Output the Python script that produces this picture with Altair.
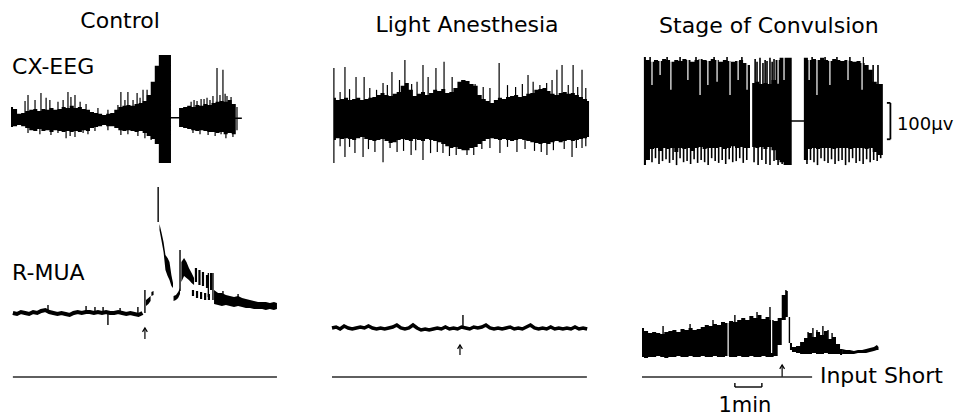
import altair as alt
import pandas as pd

# ---------------- layout constants ----------------
PX_PER_MIN = 27            # chart speed: the 1-min bracket is 27 px long
STEP = 0.15                # sampling step (min) of the read-off envelopes
CANVAS_W, CANVAS_H = 947, 410
PANEL_LEFT = [3, 324, 634]     # px from canvas left where each panel's time 0 lies
EEG_DOMAIN = [-819.5, 308.0]   # µV
MUA_DOMAIN = [-4.1, 36.9]      # R-MUA, arbitrary units (0 = input short)
FONT = "DejaVu Sans"
EEG_BASE = 0.0

# ================= Control =================
ctrl_eeg_t0 = 0.0
ctrl_eeg_hi = [36, 30, 17, 19, 25, 28, 30, 25, 30, 28,
               33, 28, 30, 36, 33, 39, 33, 36, 30, 28,
               22, 19, 17, 14, 17, 19, 28, 36, 39, 41,
               39, 44, 47, 52, 69, 105, 149, 179, 179, 179,
               8, 8, 33, 36, 39, 36, 41, 39, 44, 41,
               47, 50, 52, 50, 55, 44, 7, 7]
ctrl_eeg_lo = [-19, -17, -14, -17, -22, -28, -30, -25, -30, -28,
               -33, -28, -30, -33, -30, -33, -30, -33, -28, -30,
               -22, -19, -17, -14, -17, -17, -22, -28, -30, -28,
               -30, -33, -30, -36, -44, -52, -66, -118, -118, -118,
               4, 4, -19, -22, -25, -28, -30, -28, -30, -33,
               -33, -36, -33, -39, -36, -39, 3, 3]
ctrl_eeg_spike_t = [0.52, 0.63, 0.89, 1.11, 1.30, 1.44, 1.74, 1.93, 2.11, 2.22,
                    2.37, 2.56, 2.78, 3.22, 3.59, 3.96, 4.07, 4.22, 4.33, 4.52,
                    4.67, 4.78, 4.89, 5.04,
                    6.67, 6.78, 6.89, 7.04, 7.15, 7.26, 7.37, 7.48, 7.63, 7.74,
                    7.85, 7.93, 8.00, 8.15, 8.37,
                    0.63, 1.07, 1.48, 1.74, 2.04, 2.19, 2.37, 2.67, 2.85, 3.11,
                    3.59, 4.07, 4.33, 4.70, 4.96, 5.19,
                    6.74, 7.00, 7.30, 7.56, 7.78, 7.96, 8.22, 8.37]
ctrl_eeg_spike_v = [52, 69, 55, 74, 61, 55, 50, 55, 77, 63,
                    69, 50, 44, 33, 28, 41, 77, 55, 77, 55,
                    74, 61, 83, 83,
                    50, 55, 52, 58, 58, 61, 55, 66, 143, 69,
                    138, 72, 66, 63, 36,
                    -36, -39, -41, -36, -50, -44, -47, -36, -39, -30,
                    -28, -41, -39, -44, -50, -55,
                    -36, -39, -41, -44, -39, -50, -47, -28]

ctrl_mua_t0 = 0.07
ctrl_mua_level = [6.4, 6.3, 6.5, 6.4, 6.3, 6.5, 6.4, 6.6, 6.7, 6.5,
                  6.4, 6.3, 6.4, 6.3, 6.2, 6.4, 6.5, 6.4, 6.5, 6.5,
                  6.4, 6.5, 6.4, 6.5, 6.4, 6.4, 6.5, 6.4, 6.3, 6.4,
                  6.3, 6.2, 6.4]
ctrl_mua_piece = ["a"] * 3 + ["a2"] * 2 + ["b"] * 8 + ["c"] * 4 + ["d"] * 6 + ["e"] * 17
ctrl_mua_piece_t = [5.00, 5.09, 5.17, 5.20, 5.28,
                    5.50, 5.57, 5.65, 5.72, 5.80, 5.87, 5.94, 6.00,
                    6.02, 6.11, 6.19, 6.26,
                    6.31, 6.41, 6.50, 6.59, 6.69, 6.78,
                    7.52, 7.67, 7.81, 7.96, 8.11, 8.26, 8.41, 8.56, 8.70, 8.85,
                    9.00, 9.15, 9.30, 9.44, 9.59, 9.74, 9.85]
ctrl_mua_piece_hi = [7.7, 7.9, 8.1, 8.5, 8.6,
                     15.3, 14.5, 13.5, 12.2, 11.9, 11.5, 10.2, 9.4,
                     8.1, 8.2, 8.5, 8.9,
                     11.5, 11.9, 11.5, 10.9, 10.4, 9.9,
                     8.7, 8.4, 8.4, 8.2, 8.1, 8.0, 8.1, 7.9, 7.8, 7.7,
                     7.6, 7.5, 7.5, 7.5, 7.4, 7.5, 7.4]
ctrl_mua_piece_lo = [7.1, 7.3, 7.6, 8.1, 8.2,
                     14.7, 13.7, 12.5, 10.7, 10.1, 9.7, 9.1, 8.9,
                     7.6, 7.7, 7.9, 8.3,
                     9.5, 10.1, 9.9, 9.7, 9.4, 9.2,
                     7.3, 7.2, 7.1, 7.2, 7.1, 7.0, 7.1, 7.0, 6.9, 6.9,
                     6.8, 6.8, 6.8, 6.7, 6.8, 6.7, 6.8]
ctrl_mua_spike_t = [1.37, 2.78, 3.11, 3.41, 4.04, 4.70, 3.59, 4.96, 5.45, 6.26, 7.31, 7.48, 7.85, 8.41]
ctrl_mua_spike_base = [6.4, 6.4, 6.4, 6.4, 6.4, 6.4, 6.4, 6.4, 15.5, 8.6, 8.0, 7.7, 7.8, 7.6]
ctrl_mua_spike_tip = [7.2, 7.1, 7.0, 7.0, 6.9, 7.0, 5.2, 8.7, 19.0, 12.7, 10.4, 10.4, 8.6, 8.3]
ctrl_mua_dash_t = [6.85, 6.98, 7.11, 7.26, 7.41, 6.74, 6.89, 7.04, 7.19, 7.33]
ctrl_mua_dash_top = [10.9, 10.7, 10.5, 10.2, 10.4, 8.7, 8.6, 8.5, 8.4, 8.3]
ctrl_mua_dash_bottom = [9.5, 9.2, 9.1, 8.9, 8.7, 8.1, 7.9, 7.8, 7.7, 7.7]
ctrl_arrow = (4.96, 3.8, 4.9)
ctrl_zero = (0.07, 9.85)

# ================= Light Anesthesia =================
light_eeg_t0 = 0.07
light_eeg_hi = [61, 55, 58, 61, 55, 58, 61, 55, 58, 61,
                63, 69, 74, 69, 66, 72, 77, 94, 102, 83,
                66, 72, 77, 69, 74, 83, 80, 85, 74, 77,
                88, 105, 110, 107, 99, 94, 69, 58, 52, 47,
                55, 61, 58, 63, 66, 69, 63, 66, 72, 74,
                83, 85, 88, 80, 72, 69, 74, 77, 72, 74,
                69, 63, 58, 52]
light_eeg_lo = [-55, -50, -52, -50, -52, -55, -50, -47, -52, -55,
                -58, -55, -52, -58, -63, -61, -55, -52, -55, -58,
                -52, -55, -58, -52, -55, -58, -61, -66, -72, -77,
                -74, -80, -83, -83, -77, -74, -66, -58, -52, -50,
                -52, -55, -52, -55, -58, -55, -52, -55, -58, -61,
                -63, -66, -63, -66, -61, -58, -61, -58, -55, -58,
                -55, -52, -50, -47]
light_eeg_spike_t = [0.07, 0.48, 0.89, 1.19, 1.89, 2.22, 2.70, 3.37, 3.56, 3.85, 4.15, 4.81,
                     6.19, 7.26, 7.70, 8.33, 8.52, 8.93, 9.26,
                     0.30, 0.65, 1.40, 1.65, 2.05, 2.50, 2.95, 3.15, 4.45, 5.30, 5.60,
                     5.85, 6.50, 6.80, 7.05, 7.45, 7.95, 8.15, 8.75, 9.10, 9.40,
                     0.07, 0.48, 0.85, 1.15, 1.59, 1.89, 2.41, 2.93, 3.37, 4.11, 5.00,
                     6.22, 6.85, 7.96, 8.89, 9.26,
                     0.30, 0.65, 1.35, 2.15, 2.65, 3.10, 3.65, 3.90, 4.35, 4.60, 5.25,
                     5.55, 5.85, 6.50, 7.15, 7.50, 7.75, 8.20, 8.60, 9.05, 9.40]
light_eeg_spike_v = [143, 146, 118, 118, 102, 132, 165, 151, 118, 143, 160, 110,
                     157, 124, 96, 138, 151, 151, 138,
                     77, 85, 88, 83, 96, 110, 99, 105, 118, 99, 91,
                     88, 96, 91, 99, 105, 102, 110, 96, 91, 88,
                     -118, -102, -91, -102, -88, -116, -88, -96, -110, -91, -96,
                     -91, -88, -96, -102, -77,
                     -72, -74, -80, -77, -85, -83, -91, -88, -99, -96, -96,
                     -80, -77, -74, -80, -85, -88, -83, -80, -77, -72]
light_mua_t0 = 0.0
light_mua_level = [4.9, 5.0, 4.8, 5.1, 4.9, 4.8, 4.9, 5.0, 4.9, 5.1,
                   4.9, 4.8, 4.9, 4.8, 4.9, 5.0, 5.2, 4.9, 4.8, 4.9,
                   5.2, 4.9, 4.7, 4.8, 4.7, 4.8, 4.9, 4.8, 5.0, 4.8,
                   4.9, 4.8, 5.0, 4.9, 4.8, 5.0, 4.9, 5.0, 5.2, 4.9,
                   4.8, 4.9, 4.8, 4.9, 5.0, 4.8, 4.9, 4.8, 5.0, 5.2,
                   4.9, 4.8, 4.9, 4.8, 5.0, 4.8, 4.9, 4.8, 4.9, 4.8,
                   5.0, 4.8, 4.9, 4.8]
light_mua_spike_t = [4.85]
light_mua_spike_base = [4.9]
light_mua_spike_tip = [6.2]
light_arrow = (4.74, 2.2, 3.2)
light_zero = (0.0, 9.44)

# ================= Stage of Convulsion =================
conv_eeg_t0 = 0.07
conv_eeg_hi = [173, 165, 160, 165, 162, 168, 165, 160, 165, 162,
               168, 165, 160, 165, 168, 165, 162, 168, 165, 160,
               165, 162, 160, 162, 165, 157, 151, 102, 105, 99,
               102, 99, 110, 165, 171, 171, 171, -1, -1, -1,
               171, 165, 168, 165, 171, 165, 162, 168, 165, 162,
               165, 162, 160, 162, 157, 151, 138, 105, 99, 99]
conv_eeg_lo = [-124, -110, -80, -77, -85, -77, -80, -77, -88, -77,
               -80, -77, -85, -77, -74, -80, -77, -77, -77, -74,
               -80, -77, -72, -77, -74, -77, -77, -74, -77, -74,
               -80, -74, -83, -110, -116, -124, -124, -5, -5, -5,
               -110, -80, -77, -80, -77, -77, -77, -80, -77, -77,
               -77, -80, -77, -77, -77, -80, -77, -88, -96, -96]
conv_eeg_spike_t = [0.11, 0.24, 0.37, 0.50, 0.63, 0.76, 0.89, 1.02, 1.15, 1.28,
                    1.41, 1.54, 1.67, 1.80, 1.93, 2.06, 2.19, 2.32, 2.45, 2.58,
                    2.71, 2.84, 2.97, 3.10, 3.23, 3.36, 3.49, 3.62, 3.75, 3.88,
                    4.15, 4.30, 4.44, 4.59, 4.74, 4.89, 5.04, 5.19, 5.33, 5.48,
                    6.11, 6.24, 6.37, 6.50, 6.63, 6.76, 6.89, 7.02, 7.15, 7.28,
                    7.41, 7.54, 7.67, 7.80, 7.93, 8.06, 8.19, 8.32, 8.45, 8.58,
                    8.71, 8.84,
                    4.19, 4.26, 4.37, 4.48, 4.56, 4.63, 4.74, 4.82, 4.89, 8.56, 8.74,
                    0.30, 0.93, 1.41, 2.00, 2.67, 3.15, 3.70, 6.30, 6.78, 7.22, 7.70, 8.19]
conv_eeg_spike_v = [-124, -110, -116, -105, -121, -113, -108, -118, -110, -124,
                    -105, -116, -113, -121, -108, -118, -110, -116, -124, -105,
                    -113, -118, -110, -121, -108, -116, -113, -105, -118, -110,
                    -116, -124, -110, -121, -124, -113, -124, -121, -124, -124,
                    -121, -110, -116, -124, -105, -113, -118, -108, -121, -113,
                    -110, -124, -116, -105, -118, -113, -121, -108, -116, -110,
                    -113, -105,
                    168, 160, 171, 157, 165, 162, 171, 160, 168, 151, 151,
                    173, 173, 173, 173, 173, 173, 173, 173, 173, 173, 173, 173]
conv_eeg_gap_t = [0.37, 0.67, 1.07, 1.70, 2.15, 2.44, 2.78, 3.26, 3.56, 3.89,
                  5.04, 5.26, 6.19, 6.48, 6.96, 7.63, 8.15]
conv_eeg_gap_top = [180] * 17
conv_eeg_gap_bottom = [96, 124, 83, 110, 69, 96, 105, 69, 110, 83,
                       100, 110, 110, 69, 96, 110, 83]
conv_eeg_split = (4.04, 180, -130)
conv_scalebar_t = (9.07, 9.20)
conv_scalebar_v = (-53, 47)          # 100 µV

conv_mua_t0 = 0.0
conv_mua_hi = [4.9, 4.6, 4.4, 4.5, 4.4, 4.3, 4.5, 4.6, 4.7, 4.5,
               4.8, 4.7, 4.9, 4.7, 4.8, 5.0, 5.2, 5.1, 5.3, 5.2,
               5.5, 5.4, 5.6, 5.5, 5.7, 5.9, 5.7, 6.1, 5.9, 6.2,
               5.8, 6.0, 5.7, 5.6, 5.9, 8.2, 8.6]
conv_mua_lo = [2.0, 1.9, 2.0, 2.0, 2.1, 2.0, 1.9, 2.0, 2.0, 2.1,
               2.0, 2.0, 2.1, 2.0, 2.0, 2.1, 2.0, 2.0, 2.1, 2.0,
               2.0, 2.1, 2.0, 2.0, 2.1, 2.0, 2.0, 2.1, 2.0, 2.0,
               2.1, 2.0, 2.0, 2.1, 3.2, 5.7, 6.0]
conv_mua_burst_t = [5.48, 5.63, 5.78, 5.93, 6.07, 6.22, 6.37, 6.52, 6.67, 6.81,
                    6.96, 7.11, 7.26, 7.41]
conv_mua_burst_hi = [3.4, 3.0, 3.1, 3.5, 3.9, 4.4, 4.0, 4.5, 4.2, 4.6, 3.8, 4.0, 3.3, 2.8]
conv_mua_burst_lo = [2.7, 2.5, 2.4, 2.3, 2.3, 2.3, 2.4, 2.3, 2.3, 2.4, 2.3, 2.3, 2.3, 2.2]
conv_mua_tail_t = [7.41, 7.56, 7.70, 7.85, 8.00, 8.15, 8.30, 8.44, 8.59, 8.70, 8.76]
conv_mua_tail_hi = [2.8, 2.7, 2.7, 2.6, 2.7, 2.7, 2.8, 2.9, 3.0, 3.2, 3.0]
conv_mua_tail_lo = [2.3, 2.3, 2.3, 2.3, 2.4, 2.4, 2.4, 2.5, 2.6, 2.7, 2.7]
conv_mua_spike_t = [0.78, 1.78, 2.63, 3.44, 4.26, 4.74, 5.33, 5.46, 6.33, 6.70, 6.48, 6.89, 6.15, 7.04]
conv_mua_spike_base = [3.0, 3.0, 3.0, 3.0, 3.0, 3.0, 6.5, 3.4, 2.5, 2.5, 2.5, 2.5, 2.5, 2.5]
conv_mua_spike_tip = [5.1, 5.3, 5.7, 6.2, 6.5, 7.0, 8.7, 6.0, 4.9, 5.1, 4.7, 4.7, 4.5, 4.4]
conv_mua_gap_t = [3.19, 4.80]
conv_mua_gap_top = [5.4, 5.8]
conv_mua_gap_bottom = [2.1, 2.4]
conv_arrow = (5.19, 0.0, 1.2)
conv_zero = (0.0, 6.30)
conv_minute = (3.44, 4.44, -1.0, -0.6)   # 1-min calibration bracket

for a, b in [(ctrl_eeg_hi, ctrl_eeg_lo), (light_eeg_hi, light_eeg_lo), (conv_eeg_hi, conv_eeg_lo),
             (conv_mua_hi, conv_mua_lo), (ctrl_mua_piece_hi, ctrl_mua_piece_lo),
             (ctrl_eeg_spike_t, ctrl_eeg_spike_v), (light_eeg_spike_t, light_eeg_spike_v),
             (conv_eeg_spike_t, conv_eeg_spike_v), (conv_mua_tail_t, conv_mua_tail_hi),
             (conv_mua_burst_t, conv_mua_burst_hi), (conv_mua_burst_t, conv_mua_burst_lo),
             (conv_mua_spike_t, conv_mua_spike_tip)]:
    assert len(a) == len(b), (len(a), len(b))


# ---------------- helpers ----------------
def grid(t0, n):
    return [round(t0 + i * STEP, 4) for i in range(n)]


def X(panel):
    left = PANEL_LEFT[panel]
    dom = [-left / PX_PER_MIN, (CANVAS_W - left) / PX_PER_MIN]
    return alt.X("t:Q", scale=alt.Scale(domain=dom, nice=False, zero=False), axis=None)


def Y(field, domain):
    return alt.Y(f"{field}:Q", scale=alt.Scale(domain=domain, nice=False, zero=False), axis=None, stack=None)


def band(p, domain, t, hi, lo, seg=None, interp="step"):
    df = pd.DataFrame({"t": t, "hi": hi, "lo": lo, "seg": seg if seg else ["s"] * len(t)})
    return alt.Chart(df).mark_area(color="black", interpolate=interp, opacity=1).encode(
        x=X(p), y=Y("hi", domain), y2="lo:Q", detail="seg:N")


def vrules(p, domain, t, a, b, color="black", sw=1.0):
    df = pd.DataFrame({"t": t, "a": a, "b": b})
    return alt.Chart(df).mark_rule(color=color, strokeWidth=sw).encode(
        x=X(p), y=Y("a", domain), y2="b:Q")


def hrules(p, domain, t1, t2, v, color="black", sw=1.0):
    df = pd.DataFrame({"t": t1, "t2": t2, "v": v})
    return alt.Chart(df).mark_rule(color=color, strokeWidth=sw).encode(
        x=X(p), x2="t2:Q", y=Y("v", domain))


def trace(p, domain, t, v, sw):
    df = pd.DataFrame({"t": t, "v": v})
    return alt.Chart(df).mark_line(color="black", strokeWidth=sw, interpolate="linear").encode(
        x=X(p), y=Y("v", domain))


def label(p, domain, t, v, text, size=22, align="center"):
    df = pd.DataFrame({"t": [t], "v": [v], "label": [text]})
    return alt.Chart(df).mark_text(font=FONT, fontSize=size, align=align, baseline="alphabetic",
                                   color="black").encode(x=X(p), y=Y("v", domain), text="label:N")


def arrow(p, domain, spec):
    t, lo, hi = spec
    df = pd.DataFrame({"t": [t], "lo": [lo], "hi": [hi]})
    shaft = alt.Chart(df).mark_rule(color="black", strokeWidth=1.2).encode(
        x=X(p), y=Y("lo", domain), y2="hi:Q")
    head = alt.Chart(df).mark_point(shape="M-0.8,1.3L0,0L0.8,1.3", filled=False, size=36,
                                    strokeWidth=1.2, color="black", opacity=1).encode(
        x=X(p), y=Y("hi", domain))
    return [shaft, head]


def zero_line(p, spec):
    return hrules(p, MUA_DOMAIN, [spec[0]], [spec[1]], [0.0], color="#2a2a2a", sw=1.3)


E, M = EEG_DOMAIN, MUA_DOMAIN

# ---------------- Control panel ----------------
c1 = [
    band(0, E, grid(ctrl_eeg_t0, len(ctrl_eeg_hi)), ctrl_eeg_hi, ctrl_eeg_lo),
    vrules(0, E, ctrl_eeg_spike_t, [EEG_BASE] * len(ctrl_eeg_spike_t), ctrl_eeg_spike_v, sw=1.2),
    trace(0, M, grid(ctrl_mua_t0, len(ctrl_mua_level)), ctrl_mua_level, 4),
    band(0, M, ctrl_mua_piece_t, ctrl_mua_piece_hi, ctrl_mua_piece_lo, seg=ctrl_mua_piece, interp="linear"),
    vrules(0, M, ctrl_mua_spike_t, ctrl_mua_spike_base, ctrl_mua_spike_tip, sw=1.4),
    vrules(0, M, ctrl_mua_dash_t, ctrl_mua_dash_bottom, ctrl_mua_dash_top, sw=2.2),
    *arrow(0, M, ctrl_arrow),
    zero_line(0, ctrl_zero),
    label(0, E, 4.04, 253, "Control"),
    label(0, E, 0.04, 126.5, "CX-EEG", align="left"),
    label(0, M, 0.04, 9.7, "R-MUA", align="left"),
]

# ---------------- Light anesthesia panel ----------------
c2 = [
    band(1, E, grid(light_eeg_t0, len(light_eeg_hi)), light_eeg_hi, light_eeg_lo),
    vrules(1, E, light_eeg_spike_t, [EEG_BASE] * len(light_eeg_spike_t), light_eeg_spike_v, sw=1.2),
    trace(1, M, grid(light_mua_t0, len(light_mua_level)), light_mua_level, 3.5),
    vrules(1, M, light_mua_spike_t, light_mua_spike_base, light_mua_spike_tip, sw=1.4),
    *arrow(1, M, light_arrow),
    zero_line(1, light_zero),
    label(1, E, 5.0, 242, "Light Anesthesia"),
]

# ---------------- Convulsion panel ----------------
c3 = [
    band(2, E, grid(conv_eeg_t0, len(conv_eeg_hi)), conv_eeg_hi, conv_eeg_lo),
    vrules(2, E, conv_eeg_spike_t, [EEG_BASE] * len(conv_eeg_spike_t), conv_eeg_spike_v, sw=1.6),
    vrules(2, E, conv_eeg_gap_t, conv_eeg_gap_top, conv_eeg_gap_bottom, color="white", sw=1.2),
    vrules(2, E, [conv_eeg_split[0]], [conv_eeg_split[1]], [conv_eeg_split[2]], color="white", sw=2.2),
    vrules(2, E, [conv_scalebar_t[1]], [conv_scalebar_v[0]], [conv_scalebar_v[1]], sw=1.8),
    hrules(2, E, [conv_scalebar_t[0]] * 2, [conv_scalebar_t[1]] * 2, list(conv_scalebar_v), sw=1.8),
    band(2, M, grid(conv_mua_t0, len(conv_mua_hi)), conv_mua_hi, conv_mua_lo),
    band(2, M, conv_mua_burst_t, conv_mua_burst_hi, conv_mua_burst_lo),
    band(2, M, conv_mua_tail_t, conv_mua_tail_hi, conv_mua_tail_lo, interp="linear"),
    vrules(2, M, conv_mua_spike_t, conv_mua_spike_base, conv_mua_spike_tip, sw=1.4),
    vrules(2, M, conv_mua_gap_t, conv_mua_gap_bottom, conv_mua_gap_top, color="white", sw=1.2),
    *arrow(2, M, conv_arrow),
    zero_line(2, conv_zero),
    hrules(2, M, [conv_minute[0]], [conv_minute[1]], [conv_minute[2]], sw=1.4),
    vrules(2, M, [conv_minute[0], conv_minute[1]], [conv_minute[2]] * 2, [conv_minute[3]] * 2, sw=1.4),
    label(2, E, 4.70, 239, "Stage of Convulsion"),
    label(2, E, 9.44, -27.5, "100µv", size=18, align="left"),
    label(2, M, 6.59, -0.6, "Input Short", align="left"),
    label(2, M, 3.81, -3.5, "1min", size=21),
]

chart = (
    alt.layer(*c1, *c2, *c3)
    .resolve_scale(x="independent", y="independent")
    .properties(width=CANVAS_W, height=CANVAS_H, padding=0, background="white",
                autosize=alt.AutoSizeParams(type="none"))
    .configure_view(stroke=None)
)

chart.save("out.html", embed_options={"renderer": "svg", "actions": False})
